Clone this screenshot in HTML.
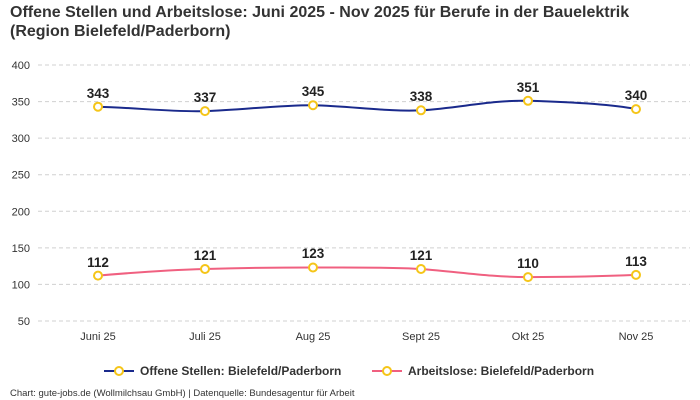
<!DOCTYPE html>
<html><head><meta charset="utf-8"><style>
body{margin:0;background:#fff;}
svg{display:block;font-family:"Liberation Sans",sans-serif;}
</style></head><body>
<svg width="700" height="400" viewBox="0 0 700 400">
<text x="10" y="17" font-size="16" font-weight="bold" fill="#333">Offene Stellen und Arbeitslose: Juni 2025 - Nov 2025 für Berufe in der Bauelektrik</text>
<text x="10" y="36" font-size="16" font-weight="bold" fill="#333">(Region Bielefeld/Paderborn)</text>
<g stroke="#d0d0d0" stroke-dasharray="4,3" stroke-width="1">
<line x1="38" x2="690" y1="65" y2="65"/><line x1="38" x2="690" y1="101.6" y2="101.6"/>
<line x1="38" x2="690" y1="138.1" y2="138.1"/><line x1="38" x2="690" y1="174.7" y2="174.7"/>
<line x1="38" x2="690" y1="211.3" y2="211.3"/><line x1="38" x2="690" y1="247.9" y2="247.9"/>
<line x1="38" x2="690" y1="284.4" y2="284.4"/><line x1="38" x2="690" y1="321" y2="321"/>
</g>
<g font-size="11" fill="#333" text-anchor="end">
<text x="30" y="69">400</text><text x="30" y="105.6">350</text><text x="30" y="142.1">300</text>
<text x="30" y="178.7">250</text><text x="30" y="215.3">200</text><text x="30" y="251.9">150</text>
<text x="30" y="288.4">100</text><text x="30" y="325">50</text>
</g>
<g font-size="11" fill="#333" text-anchor="middle">
<text x="98" y="340">Juni 25</text><text x="205" y="340">Juli 25</text><text x="313" y="340">Aug 25</text>
<text x="421" y="340">Sept 25</text><text x="528" y="340">Okt 25</text><text x="636" y="340">Nov 25</text>
</g>
<path d="M98,106.7 C140,108 170,112 205,111.1 C240,110 280,105 313,105.2 C350,106 390,112 421,110.3 C460,108 490,100 528,100.8 C570,102 610,104 636,109.1" fill="none" stroke="#1a2a8c" stroke-width="2"/>
<path d="M98,275.6 C140,272 170,270 205,269 C240,268 280,267.5 313,267.5 C350,267.5 390,267 421,269 C460,272 490,277 528,277.1 C570,277 610,276 636,274.9" fill="none" stroke="#f06080" stroke-width="2"/>
<g fill="#fff" stroke="#f5c518" stroke-width="2">
<circle cx="98" cy="106.7" r="4"/><circle cx="205" cy="111.1" r="4"/><circle cx="313" cy="105.2" r="4"/>
<circle cx="421" cy="110.3" r="4"/><circle cx="528" cy="100.8" r="4"/><circle cx="636" cy="109.1" r="4"/>
<circle cx="98" cy="275.6" r="4"/><circle cx="205" cy="269" r="4"/><circle cx="313" cy="267.5" r="4"/>
<circle cx="421" cy="269" r="4"/><circle cx="528" cy="277.1" r="4"/><circle cx="636" cy="274.9" r="4"/>
</g>
<g font-size="13.5" font-weight="bold" fill="#222" text-anchor="middle">
<text x="98" y="98">343</text><text x="205" y="102">337</text><text x="313" y="96">345</text>
<text x="421" y="101">338</text><text x="528" y="92">351</text><text x="636" y="100">340</text>
<text x="98" y="267">112</text><text x="205" y="260">121</text><text x="313" y="258">123</text>
<text x="421" y="260">121</text><text x="528" y="268">110</text><text x="636" y="266">113</text>
</g>
<line x1="104" x2="134" y1="371" y2="371" stroke="#1a2a8c" stroke-width="2"/>
<circle cx="119" cy="371" r="4" fill="#fff" stroke="#f5c518" stroke-width="2"/>
<text x="140" y="375" font-size="12" font-weight="bold" fill="#333">Offene Stellen: Bielefeld/Paderborn</text>
<line x1="372" x2="402" y1="371" y2="371" stroke="#f06080" stroke-width="2"/>
<circle cx="387" cy="371" r="4" fill="#fff" stroke="#f5c518" stroke-width="2"/>
<text x="408" y="375" font-size="12" font-weight="bold" fill="#333">Arbeitslose: Bielefeld/Paderborn</text>
<text x="10" y="396" font-size="9.5" fill="#333">Chart: gute-jobs.de (Wollmilchsau GmbH) | Datenquelle: Bundesagentur für Arbeit</text>
</svg>
</body></html>
